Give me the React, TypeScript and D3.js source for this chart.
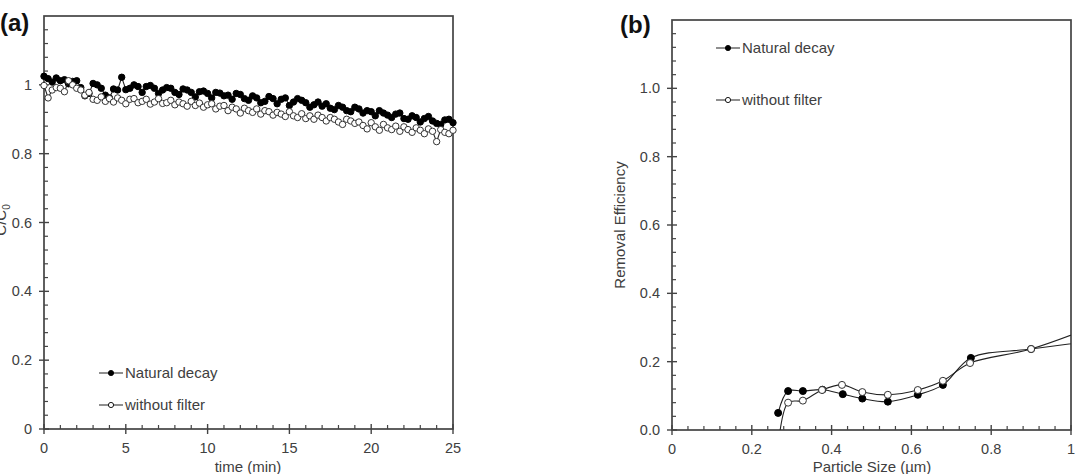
import React, { useEffect, useRef } from "react";
import * as d3 from "d3";

// panel (a): normalised concentration vs time, sampled every 0.25 min
const timeStep = 0.25;
const naturalDecayA = [
  1.025, 1.018, 1.008, 1.02, 1.012, 1.015, 1.003, 1.01, 1.012,
  0.992, 0.968, 0.975, 1.004, 1.0, 0.99, 0.97, 0.962,
  0.988, 0.985, 1.022, 0.986, 0.99, 1.0, 0.995, 0.978,
  0.995, 0.998, 0.99, 0.975, 0.985, 0.992, 0.99, 0.978,
  0.972, 0.988, 0.985, 0.978, 0.965, 0.98, 0.982, 0.975,
  0.962, 0.978, 0.976, 0.968, 0.97, 0.958, 0.975, 0.972,
  0.96, 0.955, 0.968, 0.962, 0.948, 0.952, 0.966, 0.96,
  0.945, 0.958, 0.962, 0.94, 0.95, 0.96, 0.955, 0.948,
  0.935, 0.942, 0.95, 0.938, 0.945, 0.932, 0.928, 0.94,
  0.935, 0.925, 0.922, 0.935, 0.93, 0.918, 0.925, 0.922,
  0.91, 0.925, 0.918, 0.912, 0.905, 0.915, 0.918, 0.902,
  0.9, 0.91, 0.905, 0.892, 0.902, 0.908, 0.895, 0.888,
  0.885, 0.898, 0.9, 0.89,
];
const withoutFilterA = [
  0.998, 0.962, 0.985, 0.992, 0.99, 0.98, 1.012, 1.0, 0.99,
  0.985, 0.97, 0.978, 0.958, 0.955, 0.965, 0.952, 0.96,
  0.95, 0.962, 0.955, 0.945, 0.958, 0.96, 0.948, 0.952,
  0.958, 0.944, 0.95, 0.96, 0.946, 0.948, 0.955, 0.942,
  0.95, 0.945, 0.938, 0.952, 0.94, 0.947, 0.935, 0.942,
  0.945, 0.93, 0.938, 0.94, 0.925, 0.935, 0.93, 0.918,
  0.932, 0.925, 0.92, 0.93, 0.915, 0.925, 0.922, 0.912,
  0.92, 0.915, 0.908, 0.922, 0.91, 0.905, 0.916, 0.902,
  0.91, 0.9, 0.912, 0.905, 0.895, 0.905, 0.9, 0.892,
  0.885, 0.9, 0.895, 0.888, 0.892, 0.882, 0.872, 0.89,
  0.878, 0.868, 0.885, 0.875, 0.87, 0.88, 0.865, 0.878,
  0.87, 0.862, 0.875, 0.868, 0.858, 0.872, 0.865, 0.835,
  0.87, 0.862, 0.858, 0.868,
];
const ticksTimeA = [0, 5, 10, 15, 20, 25];
const ticksYA = [0, 0.2, 0.4, 0.6, 0.8, 1];

// panel (b): removal efficiency vs particle size
const sizeNatural = [0.266, 0.291, 0.328, 0.377, 0.428, 0.477, 0.541, 0.616, 0.679, 0.749, 0.9, 1.1];
const effNatural = [0.05, 0.114, 0.114, 0.118, 0.105, 0.092, 0.083, 0.103, 0.132, 0.211, 0.237, 0.267];
const sizeWithout = [0.266, 0.291, 0.328, 0.376, 0.426, 0.477, 0.541, 0.616, 0.679, 0.747, 0.9, 1.1];
const effWithout = [-0.05, 0.08, 0.086, 0.117, 0.132, 0.111, 0.103, 0.117, 0.144, 0.196, 0.237, 0.323];
const ticksSizeB = [0, 0.2, 0.4, 0.6, 0.8, 1];
const ticksYB = [0, 0.2, 0.4, 0.6, 0.8, 1.0];

const seriesNames = ["Natural decay", "without filter"];

const FONT = "'Liberation Sans', Arial, sans-serif";
const AXIS = "#444";
const TEXT = "#404040";

function drawFrame(g, x, y, opt) {
  const [x0, x1] = x.range();
  const [y0, y1] = y.range();
  // box
  g.append("rect")
    .attr("x", x0).attr("y", y1)
    .attr("width", x1 - x0).attr("height", y0 - y1)
    .attr("fill", "none").attr("stroke", AXIS).attr("stroke-width", 1.7);

  // minor ticks (inside)
  g.append("g").selectAll("line")
    .data(opt.minorX).join("line")
    .attr("x1", (d) => x(d)).attr("x2", (d) => x(d))
    .attr("y1", y0).attr("y2", y0 - 4)
    .attr("stroke", AXIS).attr("stroke-width", 1.2);
  g.append("g").selectAll("line")
    .data(opt.minorY).join("line")
    .attr("y1", (d) => y(d)).attr("y2", (d) => y(d))
    .attr("x1", x0).attr("x2", x0 + 4)
    .attr("stroke", AXIS).attr("stroke-width", 1.2);

  // major ticks (cross)
  g.append("g").selectAll("line")
    .data(opt.ticksX).join("line")
    .attr("x1", (d) => x(d)).attr("x2", (d) => x(d))
    .attr("y1", y0 + 5).attr("y2", y0 - 5)
    .attr("stroke", AXIS).attr("stroke-width", 1.4);
  g.append("g").selectAll("line")
    .data(opt.ticksY).join("line")
    .attr("y1", (d) => y(d)).attr("y2", (d) => y(d))
    .attr("x1", x0 - 5).attr("x2", x0 + 5)
    .attr("stroke", AXIS).attr("stroke-width", 1.4);

  // labels
  g.append("g").selectAll("text")
    .data(opt.ticksX).join("text")
    .attr("x", (d) => x(d)).attr("y", y0 + 24)
    .attr("text-anchor", "middle")
    .attr("font-size", 14.5).attr("fill", TEXT)
    .text((d) => opt.fmtX(d));
  g.append("g").selectAll("text")
    .data(opt.ticksY).join("text")
    .attr("x", x0 - 12).attr("y", (d) => y(d) + 5)
    .attr("text-anchor", "end")
    .attr("font-size", 14.5).attr("fill", TEXT)
    .text((d) => opt.fmtY(d));
}

function drawSeries(g, x, y, xs, ys, filled, r, curve) {
  const pts = xs.map((d, i) => [x(d), y(ys[i])]);
  const line = d3.line().curve(curve);
  g.append("path")
    .attr("d", line(pts))
    .attr("fill", "none").attr("stroke", "#222").attr("stroke-width", 1.1);
  g.append("g").selectAll("circle")
    .data(pts).join("circle")
    .attr("cx", (d) => d[0]).attr("cy", (d) => d[1])
    .attr("r", r)
    .attr("fill", filled ? "#000" : "#fff")
    .attr("stroke", filled ? "#000" : "#333").attr("stroke-width", 1);
}

function drawLegend(g, lx, ly, gap) {
  seriesNames.forEach((name, i) => {
    const yy = ly + i * gap;
    g.append("line")
      .attr("x1", lx).attr("x2", lx + 24)
      .attr("y1", yy).attr("y2", yy)
      .attr("stroke", "#333").attr("stroke-width", 1.1);
    g.append("circle")
      .attr("cx", lx + 12).attr("cy", yy).attr("r", 2.6)
      .attr("fill", i === 0 ? "#000" : "#fff")
      .attr("stroke", "#000").attr("stroke-width", 0.9);
    g.append("text")
      .attr("x", lx + 26).attr("y", yy + 5)
      .attr("font-size", 15).attr("fill", TEXT)
      .text(name);
  });
}

export default function App() {
  const ref = useRef(null);

  useEffect(() => {
    const svg = d3.select(ref.current);
    svg.selectAll("*").remove();
    svg.attr("font-family", FONT);

    // ---------------- panel (a) ----------------
    const xa = d3.scaleLinear().domain([0, 25]).range([44, 453]);
    const ya = d3.scaleLinear().domain([0, 1.2]).range([429, 16]);
    const ga = svg.append("g");
    drawFrame(ga, xa, ya, {
      ticksX: ticksTimeA,
      ticksY: ticksYA,
      minorX: d3.range(0, 25.01, 1).filter((d) => d % 5 !== 0),
      minorY: d3.range(0, 1.2, 0.04).filter((d) => Math.abs(d * 5 - Math.round(d * 5)) > 1e-6),
      fmtX: (d) => String(d),
      fmtY: (d) => d3.format("~g")(d),
    });
    const timesA = naturalDecayA.map((_, i) => i * timeStep);
    drawSeries(ga, xa, ya, timesA, naturalDecayA, true, 3.2, d3.curveLinear);
    drawSeries(ga, xa, ya, timesA, withoutFilterA, false, 3.2, d3.curveLinear);
    drawLegend(ga, 99, 373, 32);

    ga.append("text")
      .attr("x", 248).attr("y", 472)
      .attr("text-anchor", "middle").attr("font-size", 15).attr("fill", TEXT)
      .text("time (min)");
    // y title sits at the very left edge, as in the original figure
    const lab = ga.append("text")
      .attr("transform", "translate(6,220) rotate(-90)")
      .attr("text-anchor", "middle").attr("font-size", 15).attr("fill", TEXT);
    lab.append("tspan").text("C/C");
    lab.append("tspan").attr("font-size", 10).attr("dy", 4).text("0");
    ga.append("text")
      .attr("x", 0).attr("y", 31)
      .attr("font-size", 24).attr("font-weight", "bold").attr("fill", "#111")
      .text("(a)");

    // ---------------- panel (b) ----------------
    const xb = d3.scaleLinear().domain([0, 1]).range([672, 1071]);
    const yb = d3.scaleLinear().domain([0, 1.2]).range([430, 20]);
    const gb = svg.append("g");
    drawFrame(gb, xb, yb, {
      ticksX: ticksSizeB,
      ticksY: ticksYB,
      minorX: d3.range(0, 1.0, 0.04).filter((d) => Math.abs(d * 5 - Math.round(d * 5)) > 1e-6),
      minorY: d3.range(0, 1.2, 0.04).filter((d) => Math.abs(d * 5 - Math.round(d * 5)) > 1e-6),
      fmtX: (d) => d3.format("~g")(d),
      fmtY: (d) => d3.format(".1f")(d),
    });
    svg.append("clipPath").attr("id", "clipB")
      .append("rect").attr("x", 672).attr("y", 20).attr("width", 399).attr("height", 410);
    const plotB = gb.append("g").attr("clip-path", "url(#clipB)");
    drawSeries(plotB, xb, yb, sizeNatural, effNatural, true, 3.5, d3.curveCatmullRom.alpha(0.5));
    drawSeries(plotB, xb, yb, sizeWithout, effWithout, false, 3.5, d3.curveCatmullRom.alpha(0.5));
    drawLegend(gb, 716, 48, 52);

    gb.append("text")
      .attr("x", 872).attr("y", 472)
      .attr("text-anchor", "middle").attr("font-size", 15).attr("fill", TEXT)
      .text("Particle Size (µm)");
    gb.append("text")
      .attr("transform", "translate(625,225) rotate(-90)")
      .attr("text-anchor", "middle").attr("font-size", 15).attr("fill", TEXT)
      .text("Removal Efficiency");
    gb.append("text")
      .attr("x", 620).attr("y", 33)
      .attr("font-size", 24).attr("font-weight", "bold").attr("fill", "#111")
      .text("(b)");
  }, []);

  return (
    <svg
      ref={ref}
      width={1080}
      height={474}
      style={{ position: "absolute", left: 0, top: 0, background: "#fff" }}
    />
  );
}
